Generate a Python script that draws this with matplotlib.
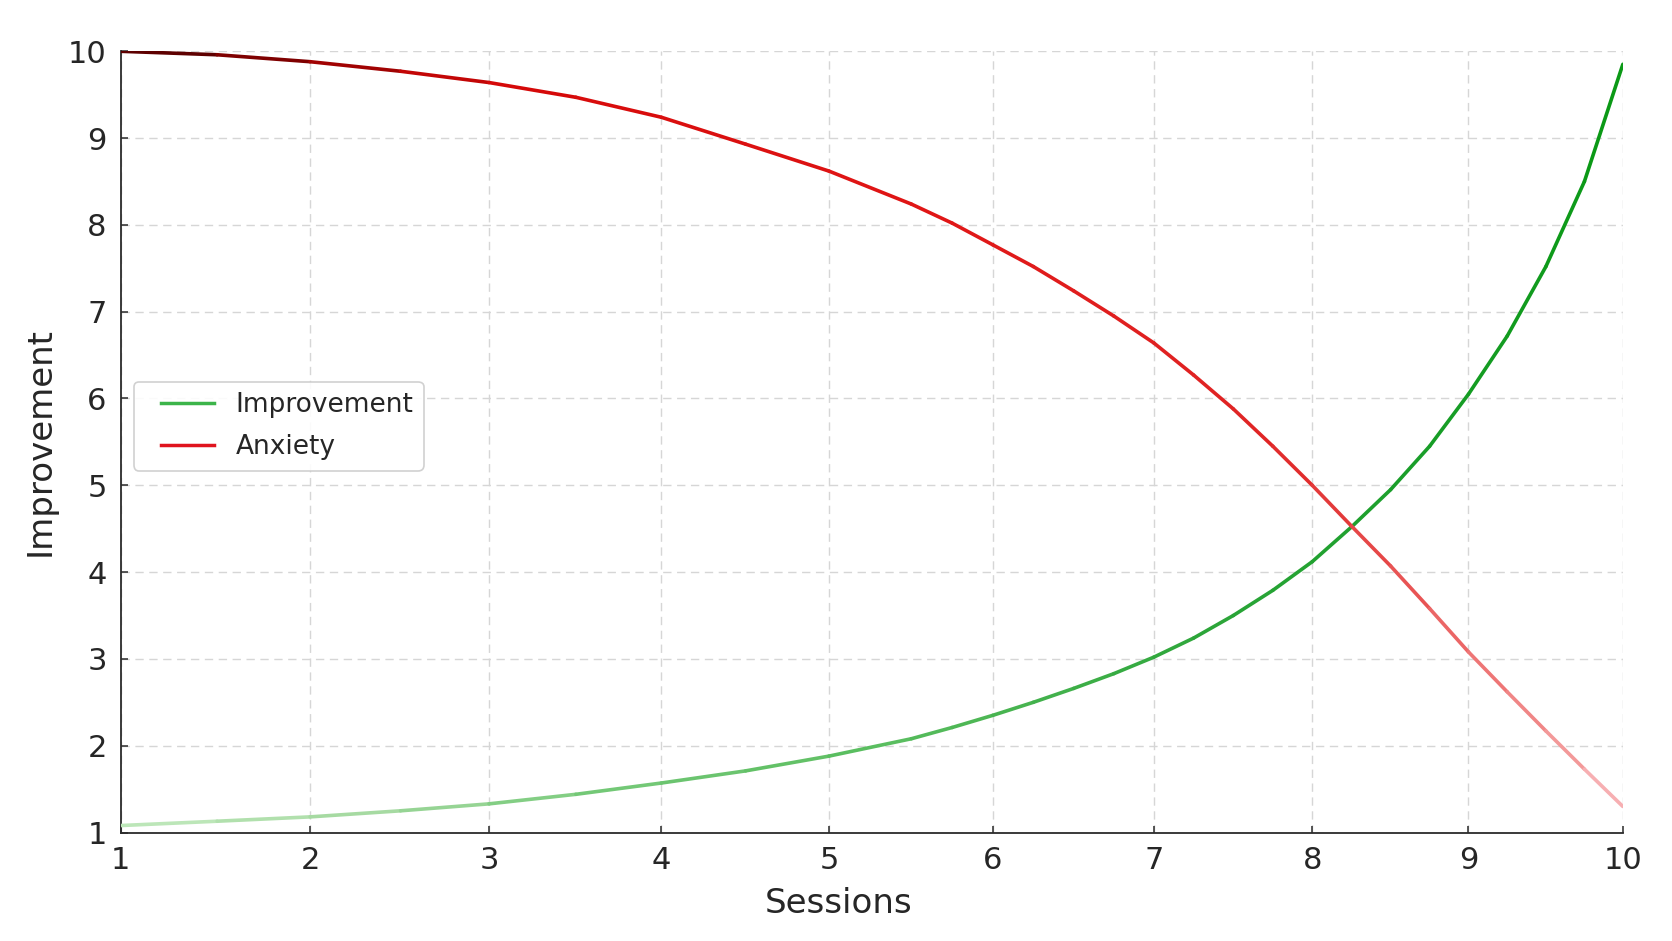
import matplotlib
matplotlib.use("Agg")
import matplotlib.pyplot as plt
import numpy as np
from matplotlib.collections import LineCollection
from matplotlib.colors import LinearSegmentedColormap
from matplotlib.lines import Line2D
from matplotlib.legend_handler import HandlerLine2D

# values
sessions = [1, 1.5, 2, 2.5, 3, 3.5, 4, 4.5, 5, 5.5, 5.75, 6, 6.25, 6.5,
            6.75, 7, 7.25, 7.5, 7.75, 8, 8.25, 8.5, 8.75, 9, 9.25, 9.5,
            9.75, 10]
improvement = [1.08, 1.13, 1.18, 1.25, 1.33, 1.44, 1.57, 1.71, 1.88, 2.08,
               2.21, 2.35, 2.50, 2.66, 2.83, 3.02, 3.24, 3.50, 3.79, 4.12,
               4.52, 4.95, 5.45, 6.05, 6.72, 7.52, 8.50, 9.85]
anxiety = [10.0, 9.96, 9.88, 9.77, 9.64, 9.47, 9.24, 8.93, 8.62, 8.24,
           8.02, 7.77, 7.52, 7.24, 6.95, 6.64, 6.27, 5.88, 5.45, 5.00,
           4.53, 4.07, 3.58, 3.08, 2.62, 2.17, 1.73, 1.30]

x_ticks = list(range(1, 11))
y_ticks = list(range(1, 11))

green_cmap = LinearSegmentedColormap.from_list(
    "imp", [(0.0, "#c2e9bd"), (0.15, "#a3d9a0"), (0.3, "#74c877"),
            (0.5, "#56bc5c"), (0.7, "#2da63a"), (0.85, "#1a9e2a"),
            (1.0, "#0a9914")])
red_cmap = LinearSegmentedColormap.from_list(
    "anx", [(0.0, "#4e0000"), (0.1, "#8a0000"), (0.22, "#d40808"),
            (0.5, "#e01515"), (0.75, "#e02626"), (0.85, "#e85555"),
            (0.95, "#f29090"), (1.0, "#f8b8bc")])


def gradient_line(ax, x, y, cmap):
    x = np.asarray(x, dtype=float)
    y = np.asarray(y, dtype=float)
    pts = np.column_stack([x, y]).reshape(-1, 1, 2)
    segs = np.concatenate([pts[:-1], pts[1:]], axis=1)
    t = ((x[:-1] + x[1:]) / 2 - x.min()) / (x.max() - x.min())
    lc = LineCollection(segs, colors=cmap(t), linewidths=2.6,
                        capstyle="round", joinstyle="round", zorder=3)
    ax.add_collection(lc)
    return lc


fig, ax = plt.subplots(figsize=(16.72, 9.41), dpi=100)
fig.subplots_adjust(left=0.0721, right=0.9706, top=0.9455, bottom=0.1153)

p = 0.89
ax.set_xscale("function", functions=(lambda v: np.sign(v) * np.abs(v) ** p,
                                     lambda v: np.sign(v) * np.abs(v) ** (1 / p)))

gradient_line(ax, sessions, improvement, green_cmap)
gradient_line(ax, sessions, anxiety, red_cmap)

ax.set_xlim(1, 10)
ax.set_ylim(1, 10)
ax.set_xticks(x_ticks)
ax.set_yticks(y_ticks)

ax.grid(True, color="#d6d6d6", linestyle=(0, (6, 4)), linewidth=1.0)
ax.set_axisbelow(True)

for side in ["top", "right"]:
    ax.spines[side].set_visible(False)
for side in ["left", "bottom"]:
    ax.spines[side].set_color("#2b2b2b")
    ax.spines[side].set_linewidth(1.3)

ax.tick_params(direction="in", length=5, width=1.1, color="#2b2b2b",
               labelsize=22, labelcolor="#262626", pad=10)

ax.set_xlabel("Sessions", fontsize=24.5, color="#262626", labelpad=8, x=0.478)
ax.set_ylabel("Improvement", fontsize=24.5, color="#262626", labelpad=8)

handles = [Line2D([], [], color="#3cb44a", lw=2.5),
           Line2D([], [], color="#e0141e", lw=2.5)]
leg = ax.legend(handles, ["Improvement", "Anxiety"], loc="center left",
                bbox_to_anchor=(0.0, 0.52), fontsize=19, frameon=True,
                edgecolor="#cccccc", framealpha=0.9, labelcolor="#262626",
                handlelength=2.65, labelspacing=0.6,
                handler_map={Line2D: HandlerLine2D(xpad=0.65)})
leg.get_frame().set_linewidth(1.2)

fig.savefig("out.png", dpi=100, facecolor="white")
